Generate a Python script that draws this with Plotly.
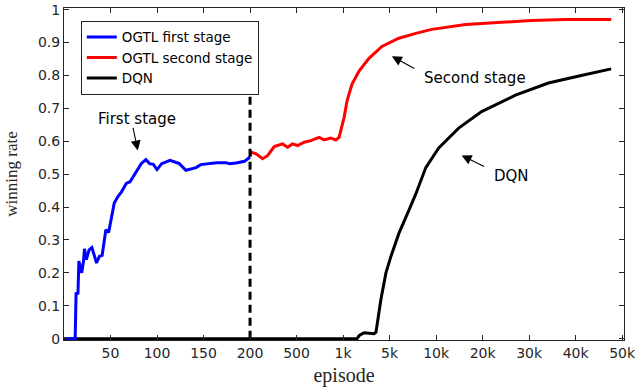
import numpy as np
import plotly.graph_objects as go

# Non-linear episode axis: tick episodes placed at equal spacing
TICK_EPISODES = [0, 50, 100, 150, 200, 500, 1000, 5000, 10000, 20000, 30000, 40000, 50000]
TICK_LABELS = ["", "50", "100", "150", "200", "500", "1k", "5k", "10k", "20k", "30k", "40k", "50k"]

# OGTL first stage (episodes 0-200)
first_ep = [1, 12, 13, 15, 16, 19, 21, 22, 24, 27, 30, 35, 38, 41, 45, 48, 54, 58, 62, 67,
            71, 78, 83, 88, 92, 96, 100, 105, 110, 114, 119, 124, 131, 137, 142, 147, 155,
            164, 174, 178, 185, 194, 200]
first_val = [0, 0, 0.14, 0.135, 0.236, 0.20, 0.236, 0.273, 0.24, 0.27, 0.277, 0.23, 0.25,
             0.253, 0.331, 0.323, 0.412, 0.432, 0.447, 0.472, 0.477, 0.51, 0.532, 0.544,
             0.532, 0.53, 0.514, 0.532, 0.537, 0.542, 0.537, 0.532, 0.512, 0.517, 0.52,
             0.529, 0.532, 0.535, 0.535, 0.532, 0.534, 0.539, 0.552]

# OGTL second stage
second_ep = [200, 207, 239, 281, 314, 356, 377, 410, 442, 474, 511, 582, 654, 743, 796, 868,
             921, 957, 993, 1086, 1343, 1771, 2371, 3229, 4343, 6000, 7820, 9534, 16357,
             23429, 30500, 37786, 47643]
second_val = [0.555, 0.567, 0.562, 0.547, 0.557, 0.584, 0.587, 0.592, 0.582, 0.592, 0.587,
              0.597, 0.602, 0.612, 0.604, 0.61, 0.604, 0.612, 0.652, 0.672, 0.723, 0.774,
              0.813, 0.852, 0.888, 0.913, 0.928, 0.94, 0.955, 0.961, 0.967, 0.97, 0.97]

# DQN
dqn_ep = [0, 2200, 2400, 2800, 3657, 3829, 4257, 4686, 5143, 6000, 7071, 7820, 8891, 10571,
          14857, 19786, 27071, 34143, 41214, 47643]
dqn_val = [0, 0, 0.01, 0.018, 0.015, 0.02, 0.12, 0.2, 0.25, 0.32, 0.39, 0.44, 0.52, 0.58,
           0.64, 0.69, 0.74, 0.777, 0.80, 0.82]

# Stage boundary marker
boundary_ep = [200, 200]
boundary_val = [0, 0.76]

POS = np.arange(len(TICK_EPISODES))


def to_axis(ep):
    return np.interp(np.asarray(ep, dtype=float), TICK_EPISODES, POS)


TICK_FONT = dict(family="DejaVu Sans", size=14, color="#262626")
AXIS_COLOR = "#262626"

fig = go.Figure()
fig.add_trace(go.Scatter(x=to_axis(dqn_ep), y=dqn_val, mode="lines", name="DQN",
                         line=dict(color="black", width=3), legendrank=3))
fig.add_trace(go.Scatter(x=to_axis(first_ep), y=first_val, mode="lines", name="OGTL first stage",
                         line=dict(color="#0000FF", width=3), legendrank=1))
fig.add_trace(go.Scatter(x=to_axis(second_ep), y=second_val, mode="lines", name="OGTL second stage",
                         line=dict(color="#FF0000", width=3), legendrank=2))
fig.add_trace(go.Scatter(x=to_axis(boundary_ep), y=boundary_val, mode="lines", showlegend=False,
                         line=dict(color="black", width=3, dash="8px,5px")))

ANN_FONT = dict(family="DejaVu Sans", size=15, color="black")


def arrow(head_ep, head_y, tail_ep, tail_y):
    fig.add_annotation(x=float(to_axis(head_ep)), y=head_y, ax=float(to_axis(tail_ep)), ay=tail_y,
                       xref="x", yref="y", axref="x", ayref="y", text="", showarrow=True,
                       arrowhead=2, arrowsize=1.8, arrowwidth=1.1, arrowcolor="black", standoff=0,
                       startstandoff=0)


def label(ep, y, text):
    fig.add_annotation(x=float(to_axis(ep)), y=y, xref="x", yref="y", text=text, showarrow=False,
                       font=ANN_FONT, xanchor="center", yanchor="middle")


label(78, 0.669, "First stage")
arrow(79.3, 0.572, 73.9, 0.645)
label(18280, 0.792, "Second stage")
arrow(5250, 0.858, 7820, 0.819)
label(26200, 0.494, "DQN")
arrow(15500, 0.557, 20640, 0.521)

fig.update_layout(
    width=637, height=390,
    margin=dict(l=64, r=13, t=8, b=50),
    plot_bgcolor="white", paper_bgcolor="white",
    showlegend=True,
    legend=dict(x=0.03, y=0.962, xanchor="left", yanchor="top",
                bordercolor="#262626", borderwidth=1, bgcolor="white",
                font=dict(family="DejaVu Sans", size=13.5, color="black"),
                tracegroupgap=0, itemwidth=30),
)
fig.update_xaxes(range=[0, 12.04], tickmode="array", tickvals=list(POS), ticktext=TICK_LABELS,
                 automargin=False,
                 ticks="inside", ticklen=5, tickcolor=AXIS_COLOR, showline=True, linecolor=AXIS_COLOR,
                 linewidth=1, mirror="ticks", showgrid=False, zeroline=False, tickfont=TICK_FONT,
                 title=dict(text="episode", font=dict(family="Liberation Serif", size=20, color="#262626"),
                            standoff=8))
fig.update_yaxes(range=[-0.004, 1.005], tickmode="array", tickvals=[i / 10 for i in range(11)],
                 ticktext=["0", "0.1", "0.2", "0.3", "0.4", "0.5", "0.6", "0.7", "0.8", "0.9", "1"],
                 automargin=False,
                 ticks="inside", ticklen=5, tickcolor=AXIS_COLOR, showline=True, linecolor=AXIS_COLOR,
                 linewidth=1, mirror="ticks", showgrid=False, zeroline=False, tickfont=TICK_FONT,
                 title=dict(text="winning rate", font=dict(family="Liberation Serif", size=17, color="#262626"),
                            standoff=15))

fig.write_html(
    "out.html",
    config={"displayModeBar": False},
    post_script=("document.documentElement.style.margin='0';"
                 "document.body.style.margin='0';"
                 "document.body.style.overflow='hidden';"),
)
